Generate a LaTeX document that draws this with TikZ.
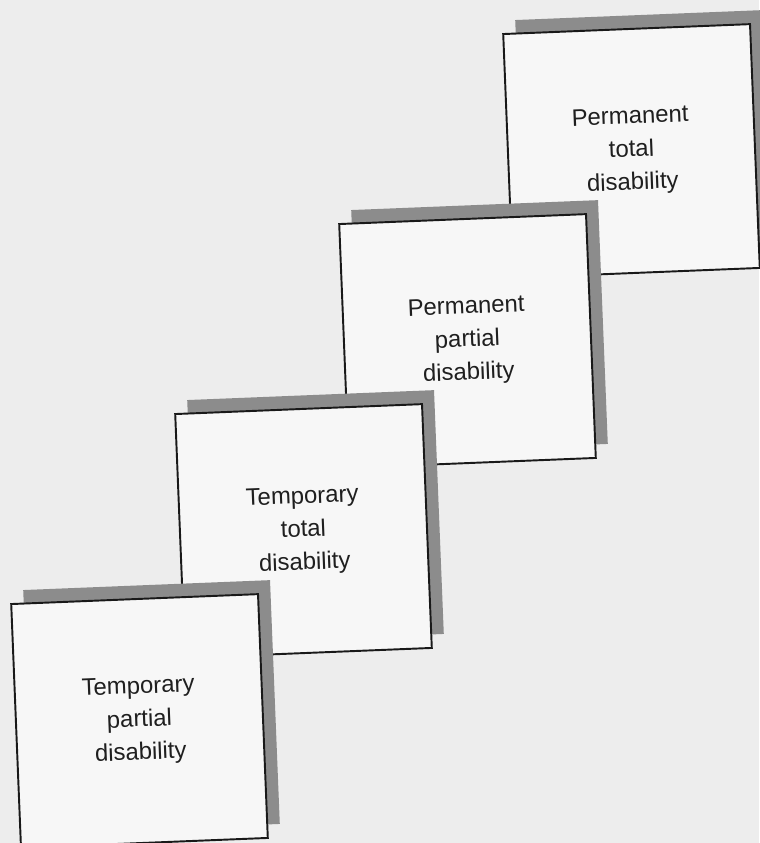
\documentclass[tikz,border=0pt]{standalone}
\usepackage{fontspec}
\setmainfont{Liberation Sans}
\usepackage{tikz}
\usetikzlibrary{positioning,shadows}

\tikzset{
  dcard/.style={draw=black!90, line width=1.1pt, fill=black!3,
    minimum width=4.94cm, minimum height=4.88cm, rotate=2.3,
    align=center, text=black!88,
    font=\fontsize{13.6}{18.8}\selectfont,
    drop shadow={shadow xshift=0.24cm, shadow yshift=0.28cm,
      fill=black!45, opacity=1}}
}

\begin{document}
\begin{tikzpicture}[node distance=3.8cm and 3.28cm, on grid]
    \fill[black!7] (0,0) rectangle (15.18,16.86);
    \useasboundingbox (0,0) rectangle (15.18,16.86);

    \node[dcard] (ptot) at (12.63,13.84) {Permanent\\total\\disability};
    \node[dcard] (ppart) [below left=of ptot] {Permanent\\partial\\disability};
    \node[dcard] (ttot) [below left=of ppart] {Temporary\\total\\disability};
    \node[dcard] (tpart) [below left=of ttot] {Temporary\\partial\\disability};
\end{tikzpicture}
\end{document}
